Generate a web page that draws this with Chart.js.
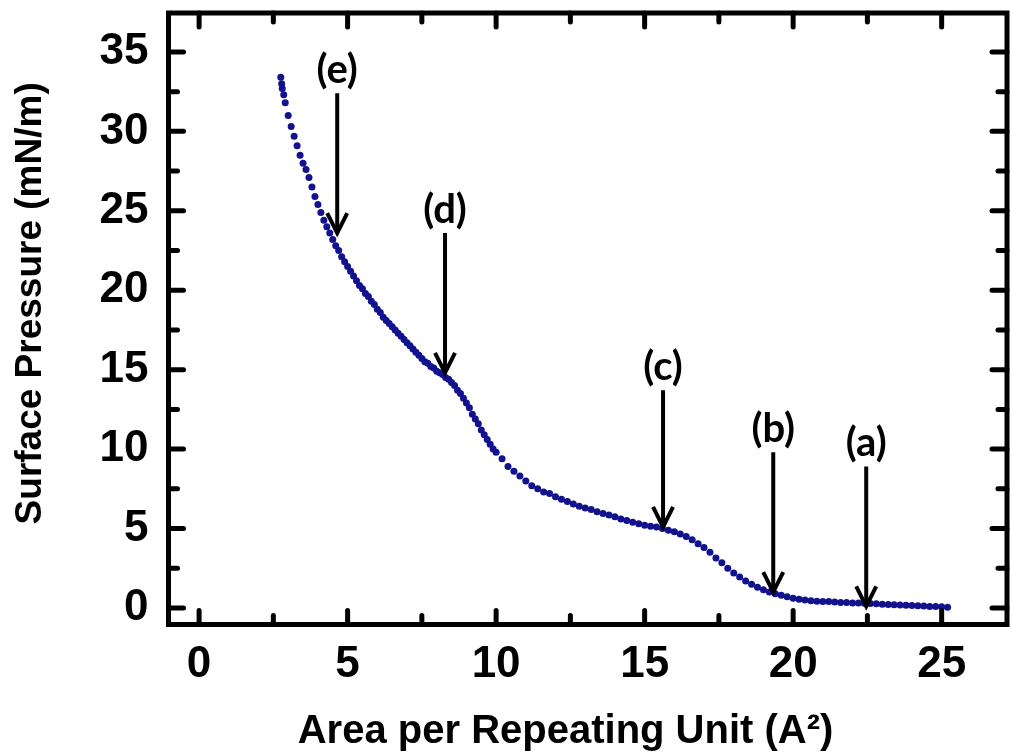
<!DOCTYPE html>
<html>
<head>
<meta charset="utf-8">
<script src="https://cdn.jsdelivr.net/npm/chart.js@4/dist/chart.umd.min.js"></script>
<style>
  body { margin: 0; background: #fff; }
  #wrap { width: 1011px; height: 752px; position: relative; }
</style>
</head>
<body>
<div id="wrap"><canvas id="isotherm"></canvas></div>
<script>
// isotherm: area per repeating unit vs surface pressure
var area = [
  2.75, 2.78, 2.8, 2.85, 2.9, 3.0, 3.1, 3.2, 3.3, 3.4, 3.5, 3.6, 3.7, 3.8, 3.9,
  4.0, 4.1, 4.2, 4.3, 4.4, 4.5, 4.6, 4.7, 4.8, 4.9,
  5.0, 5.1, 5.2, 5.3, 5.4, 5.5, 5.6, 5.7, 5.8, 5.9,
  6.0, 6.1, 6.2, 6.3, 6.4, 6.5, 6.6, 6.7, 6.8, 6.9,
  7.0, 7.1, 7.2, 7.3, 7.4, 7.5, 7.6, 7.7, 7.8, 7.9,
  8.0, 8.1, 8.2, 8.3, 8.4, 8.5, 8.6, 8.7, 8.8, 8.9,
  9.0, 9.1, 9.2, 9.3, 9.4, 9.5, 9.6, 9.7, 9.8, 9.9,
  10.0, 10.2, 10.4, 10.6, 10.8, 11.0, 11.2, 11.4, 11.6, 11.8,
  12.0, 12.2, 12.4, 12.6, 12.8, 13.0, 13.2, 13.4, 13.6, 13.8,
  14.0, 14.2, 14.4, 14.6, 14.8, 15.0, 15.2, 15.4, 15.6, 15.8,
  16.0, 16.2, 16.4, 16.6, 16.8, 17.0, 17.2, 17.4, 17.6, 17.8,
  18.0, 18.2, 18.4, 18.6, 18.8, 19.0, 19.2, 19.4, 19.6, 19.8,
  20.0, 20.2, 20.4, 20.6, 20.8, 21.0, 21.2, 21.4, 21.6, 21.8,
  22.0, 22.2, 22.4, 22.6, 22.8, 23.0, 23.2, 23.4, 23.6, 23.8,
  24.0, 24.2, 24.4, 24.6, 24.8, 25.0, 25.2
];
var pressure = [
  33.4, 33.0, 32.7, 32.3, 31.8, 31.0, 30.3, 29.7, 29.1, 28.5, 28.0, 27.6, 27.1, 26.5, 25.9,
  25.4, 24.9, 24.4, 24.0, 23.6, 23.2, 22.8, 22.5, 22.1, 21.8,
  21.5, 21.2, 20.9, 20.6, 20.3, 20.1, 19.8, 19.6, 19.3, 19.1,
  18.8, 18.6, 18.3, 18.1, 17.9, 17.7, 17.5, 17.3, 17.1, 16.9,
  16.7, 16.5, 16.3, 16.1, 15.9, 15.7, 15.5, 15.4, 15.2, 15.1,
  14.9, 14.8, 14.7, 14.5, 14.4, 14.2, 14.0, 13.7, 13.5, 13.2,
  12.9, 12.6, 12.2, 11.9, 11.6, 11.2, 10.9, 10.6, 10.3, 10.0,
  9.8, 9.4, 8.9, 8.6, 8.3, 8.0, 7.7, 7.5, 7.3, 7.2,
  7.0, 6.85, 6.7, 6.55, 6.4, 6.3, 6.2, 6.05, 5.95, 5.85,
  5.75, 5.6, 5.5, 5.4, 5.3, 5.2, 5.15, 5.1, 5.0, 4.9,
  4.8, 4.65, 4.5, 4.3, 4.05, 3.8, 3.5, 3.15, 2.85, 2.5,
  2.2, 1.95, 1.7, 1.5, 1.3, 1.15, 1.0, 0.9, 0.8, 0.7,
  0.62, 0.55, 0.5, 0.46, 0.43, 0.4, 0.4, 0.37, 0.35, 0.34,
  0.32, 0.31, 0.3, 0.28, 0.26, 0.24, 0.22, 0.2, 0.18, 0.17,
  0.15, 0.14, 0.12, 0.1, 0.09, 0.07, 0.05
];

var xTicks = [0, 5, 10, 15, 20, 25];
var yTicks = [0, 5, 10, 15, 20, 25, 30, 35];

// marked stages: label, area, top of arrow, tip of arrow (pressure units)
var stageLabels = ["(a)", "(b)", "(c)", "(d)", "(e)"];
var stageArea = [22.46, 19.33, 15.62, 8.28, 4.65];
var stageTop = [8.9, 9.8, 13.7, 23.6, 32.4];
var stageTip = [0.1, 1.0, 5.1, 14.8, 23.6];

var points = area.map(function(a, i) { return {x: a, y: pressure[i]}; });

var framePlugin = {
  id: "frame",
  afterDatasetsDraw: function(chart) {
    var ctx = chart.ctx, ca = chart.chartArea;
    var xs = chart.scales.x, ys = chart.scales.y;
    ctx.save();
    ctx.strokeStyle = "#000";
    ctx.lineCap = "round";
    ctx.lineWidth = 5;

    // inward ticks on all four sides
    for (var v = 0; v <= xs.max; v += 2.5) {
      var px = xs.getPixelForValue(v);
      var len = (v % 5 === 0) ? 14 : 9;
      ctx.beginPath();
      ctx.moveTo(px, ca.bottom); ctx.lineTo(px, ca.bottom - len);
      ctx.moveTo(px, ca.top); ctx.lineTo(px, ca.top + len);
      ctx.stroke();
    }
    for (var w = 0; w <= ys.max; w += 2.5) {
      var py = ys.getPixelForValue(w);
      var l2 = (w % 5 === 0) ? 15 : 9;
      ctx.beginPath();
      ctx.moveTo(ca.left, py); ctx.lineTo(ca.left + l2, py);
      ctx.moveTo(ca.right, py); ctx.lineTo(ca.right - l2, py);
      ctx.stroke();
    }

    ctx.lineCap = "butt";
    ctx.lineWidth = 5;
    ctx.strokeRect(ca.left, ca.top, ca.right - ca.left, ca.bottom - ca.top);

    // arrows with labels
    ctx.lineWidth = 4;
    ctx.lineJoin = "miter";
    ctx.fillStyle = "#000";
    ctx.font = "bold 40px Lato";
    ctx.textAlign = "center";
    ctx.textBaseline = "middle";
    for (var i = 0; i < stageLabels.length; i++) {
      var ax = xs.getPixelForValue(stageArea[i]);
      var y0 = ys.getPixelForValue(stageTop[i]);
      var y1 = ys.getPixelForValue(stageTip[i]);
      ctx.beginPath();
      ctx.moveTo(ax, y0); ctx.lineTo(ax, y1 - 2);
      ctx.stroke();
      ctx.beginPath();
      ctx.moveTo(ax - 10, y1 - 20);
      ctx.lineTo(ax, y1);
      ctx.lineTo(ax + 10, y1 - 20);
      ctx.stroke();
      ctx.fillText(stageLabels[i], ax, y0 - 23);
    }
    ctx.restore();
  }
};

new Chart("isotherm", {
  type: "scatter",
  data: {
    datasets: [{
      data: points,
      backgroundColor: "#12128e",
      borderColor: "#12128e",
      pointRadius: 3.5,
      pointBorderWidth: 0,
      showLine: false
    }]
  },
  options: {
    responsive: true,
    maintainAspectRatio: false,
    animation: false,
    layout: { padding: { top: 13, right: 4, left: 0, bottom: 0 } },
    plugins: {
      legend: { display: false },
      tooltip: { enabled: false }
    },
    scales: {
      x: {
        type: "linear",
        min: -1.03,
        max: 27.2,
        afterBuildTicks: function(s) { s.ticks = xTicks.map(function(v) { return {value: v}; }); },
        afterFit: function(s) { s.height = 127.5; s.paddingLeft = 0; s.paddingRight = 0; },
        grid: { display: false, drawTicks: false },
        border: { display: false },
        ticks: {
          color: "#000",
          padding: 14,
          font: { family: "Liberation Sans", weight: "bold", size: 44 }
        },
        title: {
          display: true,
          text: "Area per Repeating Unit (A\u00b2)\u00a0\u00a0\u00a0\u00a0",
          color: "#000",
          font: { family: "Liberation Sans", weight: "bold", size: 40, lineHeight: 1 },
          padding: { top: 0, bottom: 0 }
        }
      },
      y: {
        type: "linear",
        min: -1.04,
        max: 37.45,
        afterBuildTicks: function(s) { s.ticks = yTicks.map(function(v) { return {value: v}; }); },
        afterFit: function(s) { s.width = 168.5; s.paddingTop = 0; s.paddingBottom = 0; },
        grid: { display: false, drawTicks: false },
        border: { display: false },
        ticks: {
          color: "#000",
          padding: 20,
          font: { family: "Liberation Sans", weight: "bold", size: 44 }
        },
        title: {
          display: true,
          text: "\u00a0\u00a0\u00a0Surface Pressure (mN/m)",
          color: "#000",
          font: { family: "Liberation Sans", weight: "bold", size: 37, lineHeight: 1 },
          padding: { top: 12, bottom: 0 }
        }
      }
    }
  },
  plugins: [framePlugin]
});
</script>
</body>
</html>
